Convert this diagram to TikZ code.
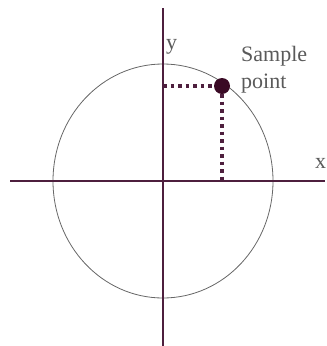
\documentclass[tikz,border=0pt]{standalone}
\usepackage{fontspec}
\setmainfont{Liberation Serif}
\begin{document}
\begin{tikzpicture}[x=1pt,y=-1pt,
  axis/.style={line width=2pt,draw=axiscol},
  guide/.style={line width=3.5pt,draw=axiscol,dash pattern=on 3.5pt off 4pt},
  lbl/.style={text=textcol,font=\fontsize{22}{27}\selectfont,inner sep=0pt}]
\definecolor{axiscol}{HTML}{4E1F3E}
\definecolor{textcol}{HTML}{5A5A5A}
\definecolor{ptcol}{HTML}{3A0A25}
\useasboundingbox (0,0) rectangle (327,346);
\coordinate (O) at (163,181);
\coordinate (xl) at (10,181);
\coordinate (xr) at (325,181);
\coordinate (yt) at (163,8);
\coordinate (yb) at (163,346);
\coordinate (yfoot) at (163,86);
\coordinate (xfoot) at (222,181);
\draw[draw=gray!80!black,line width=0.8pt] (O) ellipse[x radius=110,y radius=117];
\draw[axis] (xl) -- (xr);
\draw[axis] (yt) -- (yb);
\node[circle,fill=ptcol,minimum size=16pt,inner sep=0pt] (P) at (222,86) {};
\draw[guide] (yfoot) -- (P.west);
\draw[guide] (P.south) -- (xfoot);
\node[lbl,anchor=base west] (ylab) at (166,49) {y};
\node[lbl,anchor=base west,align=left] (slab) at (241,88) {Sample\\point};
\node[lbl,anchor=base west] (xlab) at (315,168) {x};
\end{tikzpicture}
\end{document}
